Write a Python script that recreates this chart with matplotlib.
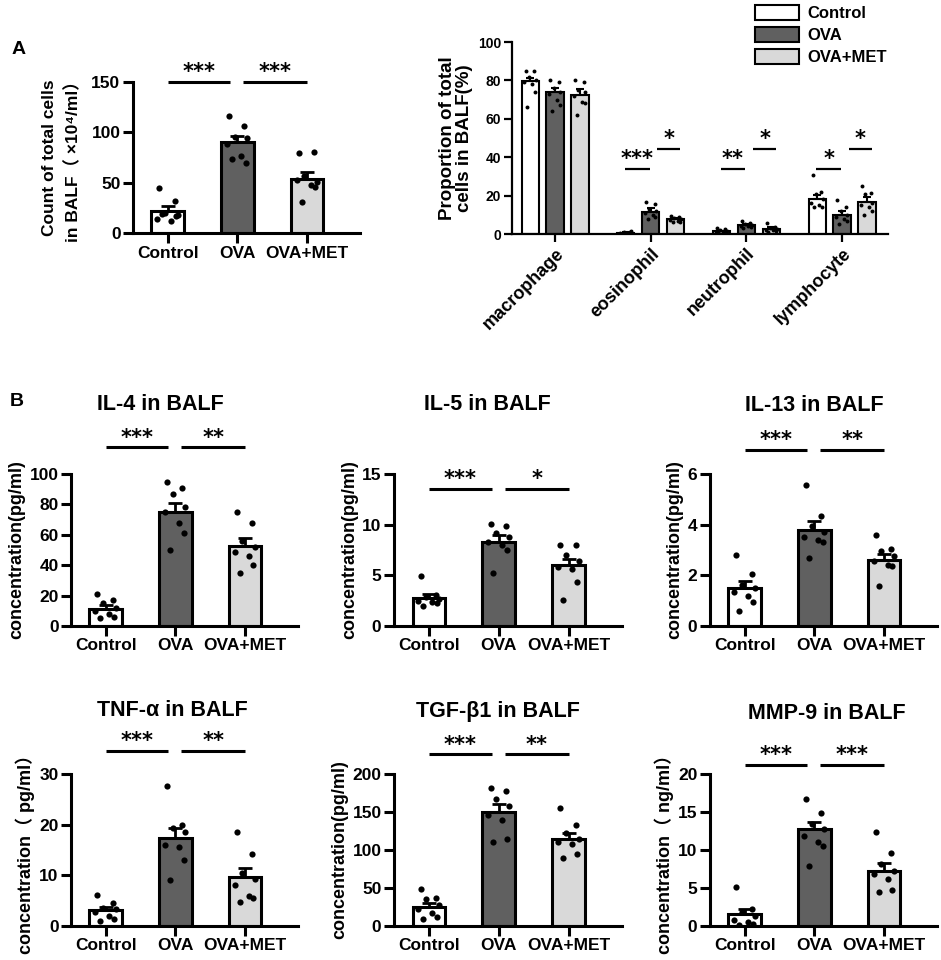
import matplotlib
matplotlib.use('Agg')
import matplotlib.pyplot as plt
import numpy as np
from matplotlib.patches import Patch

plt.rcParams['font.family'] = ['Liberation Sans', 'Noto Sans CJK SC', 'DejaVu Sans']
plt.rcParams['font.weight'] = 'bold'
plt.rcParams['axes.labelweight'] = 'bold'

groups = ['Control', 'OVA', 'OVA+MET']
colors = ['white', '#606060', '#d9d9d9']

# total cells in BALF (x10^4/ml)
total_mean = [22, 90, 54]
total_sem = [5, 6.5, 6.5]
total_dots = [[45, 32, 20, 18, 14, 12, 17, 19],
              [116, 106, 95, 94, 88, 76, 70, 74],
              [79, 80, 57, 51, 53, 48, 46, 31]]

# proportion of cell types (%)
cell_types = ['macrophage', 'eosinophil', 'neutrophil', 'lymphocyte']
prop_ctrl = [79.5, 0.7, 1.5, 18.0]
prop_ova = [73.7, 11.5, 4.5, 10.0]
prop_met = [72.2, 7.8, 2.8, 16.7]
prop_ctrl_sem = [1.9, 0.2, 0.3, 2.2]
prop_ova_sem = [2.6, 1.9, 0.5, 2.2]
prop_met_sem = [3.1, 0.5, 0.6, 2.4]
prop_ctrl_dots = [[85, 85, 82, 80, 79, 78, 74, 66],
                  [0.2, 0.5, 0.8, 1.5, 0.3, 0.6, 1.0, 0.4],
                  [3, 2.5, 2, 1.5, 1, 1, 0.5, 0.8],
                  [30.5, 22, 21, 18, 16, 15, 14, 14]]
prop_ova_dots = [[80, 79, 76, 74, 73, 70, 67, 64],
                 [16.5, 15.5, 13, 12, 11, 10, 9, 8],
                 [7, 5.5, 5, 4.5, 4, 4, 3.5, 3],
                 [17.5, 14, 12, 10, 9, 8, 7, 5]]
prop_met_dots = [[80, 79, 75, 74, 72, 69, 68, 62],
                 [9.5, 9, 8.5, 8, 7.5, 7, 6.5, 6],
                 [5.5, 3.5, 3, 2.5, 2, 2, 1.5, 1],
                 [25, 21.5, 21, 16, 15, 14, 12, 10]]
prop_sig = [('eosinophil', '***', '*'), ('neutrophil', '**', '*'), ('lymphocyte', '*', '*')]

# cytokines
il4_mean = [11.5, 75, 52.5]
il4_sem = [2.5, 5.8, 5.3]
il4_dots = [[21, 17, 15, 12, 10, 8, 6, 5],
            [95, 91, 87, 78, 75, 68, 61, 50],
            [75, 68, 56, 52, 49, 46, 40, 35]]

il5_mean = [2.75, 8.3, 6.0]
il5_sem = [0.45, 0.65, 0.65]
il5_dots = [[4.9, 3.1, 2.9, 2.7, 2.5, 2.4, 2.3, 2.0],
            [10.1, 9.9, 9.2, 8.8, 8.3, 8.0, 7.5, 5.2],
            [8.0, 8.0, 7.0, 6.4, 5.8, 5.6, 4.3, 2.6]]

il13_mean = [1.5, 3.8, 2.6]
il13_sem = [0.28, 0.33, 0.24]
il13_dots = [[2.8, 2.05, 1.6, 1.5, 1.35, 1.2, 0.95, 0.6],
             [5.55, 4.35, 3.95, 3.7, 3.5, 3.4, 3.3, 2.7],
             [3.6, 3.05, 2.95, 2.75, 2.55, 2.4, 2.35, 1.58]]

tnf_mean = [3.1, 17.3, 9.7]
tnf_sem = [0.7, 2.1, 1.8]
tnf_dots = [[6.2, 4.6, 3.6, 3.4, 2.8, 2.0, 1.4, 1.0],
            [27.6, 20.0, 19.3, 18.5, 16.0, 15.5, 13.0, 9.0],
            [18.6, 14.3, 10.5, 9.2, 8.0, 6.0, 5.5, 4.8]]

tgf_mean = [25, 150, 114]
tgf_sem = [5.5, 10.5, 8.5]
tgf_dots = [[49, 37, 35, 27, 22, 17, 12, 9],
            [181, 178, 167, 158, 146, 140, 114, 111],
            [155, 133, 122, 115, 110, 108, 95, 89]]

mmp_mean = [1.55, 12.7, 7.3]
mmp_sem = [0.7, 1.0, 1.05]
mmp_dots = [[5.1, 2.3, 1.9, 1.3, 0.8, 0.5, 0.3, 0.1],
            [16.7, 14.9, 13.4, 12.8, 11.8, 11.0, 10.5, 7.9],
            [12.4, 9.6, 8.2, 7.2, 6.8, 6.2, 4.7, 4.5]]

W, H = 941, 960
fig = plt.figure(figsize=(W / 100, H / 100), dpi=100)


def rect(l, r, t, b):
    return [l / W, 1 - b / H, (r - l) / W, (b - t) / H]


jit = np.array([-0.12, 0.1, -0.04, 0.14, -0.15, 0.05, 0.12, -0.08])
star_font = dict(family='DejaVu Sans', fontweight='bold', fontsize=15)


def sig(ax, x0, x1, y, txt, lw=2.2):
    ax.plot([x0, x1], [y, y], color='black', lw=lw, clip_on=False, solid_capstyle='butt')
    ax.annotate(txt, ((x0 + x1) / 2, y), xytext=(0, 7), textcoords='offset points',
                ha='center', va='center', annotation_clip=False, **star_font)


def three_bar(pos, means, sems, dots, ymax, ystep, ylabel, title, sig_y, stars, title_xy):
    ax = fig.add_axes(rect(*pos))
    x = np.arange(3)
    ax.bar(x, means, width=0.47, color=colors, edgecolor='black', linewidth=2.2, zorder=2)
    ax.errorbar(x, means, yerr=[np.zeros(3), sems], fmt='none', ecolor='black',
                elinewidth=2, capsize=5, capthick=2, zorder=3)
    for i in range(3):
        ax.scatter(x[i] + jit, dots[i], s=20, color='black', zorder=4, linewidths=0)
    ax.set_xlim(-0.5, 2.76)
    ax.set_ylim(0, ymax)
    ax.set_yticks(np.arange(0, ymax + ystep / 2, ystep))
    ax.set_xticks(x)
    ax.set_xticklabels(groups)
    for s in ['top', 'right']:
        ax.spines[s].set_visible(False)
    for s in ['left', 'bottom']:
        ax.spines[s].set_linewidth(2.2)
    ax.tick_params(width=2.2, length=7, labelsize=12.5, pad=2)
    ax.set_ylabel(ylabel, fontsize=13, labelpad=3)
    if title:
        ax.text(title_xy[0], title_xy[1], title, transform=ax.get_xaxis_transform(), ha='center',
                va='center', fontsize=15.5, fontweight='bold')
    sig(ax, 0, 0.9, sig_y, stars[0])
    sig(ax, 1.08, 2.0, sig_y, stars[1])
    return ax


# panel A left
axA = three_bar((133, 360, 82, 233), total_mean, total_sem, total_dots, 150, 50,
                'Count of total cells\nin BALF（ ×10⁴/ml）', None, 150, ('***', '***'), None)
axA.yaxis.label.set_linespacing(1.6)
axA.yaxis.label.set_fontsize(12.5)
axA.yaxis.labelpad = 7

# panel A right
ax2 = fig.add_axes(rect(512, 888, 42, 234))
g = np.arange(4)
off = 0.26
bw = 0.18
jit2 = jit * 0.4
means_all = [prop_ctrl, prop_ova, prop_met]
sems_all = [prop_ctrl_sem, prop_ova_sem, prop_met_sem]
dots_all = [prop_ctrl_dots, prop_ova_dots, prop_met_dots]
for k in range(3):
    xs = g + (k - 1) * off
    ax2.bar(xs, means_all[k], width=bw, color=colors[k], edgecolor='black', linewidth=1.5,
            zorder=2, label=groups[k])
    ax2.errorbar(xs, means_all[k], yerr=[np.zeros(4), sems_all[k]], fmt='none', ecolor='black',
                 elinewidth=1.5, capsize=3, capthick=1.5, zorder=3)
    for j in range(4):
        ax2.scatter(xs[j] + jit2, dots_all[k][j], s=8, color='black', zorder=4, linewidths=0)
ax2.set_xlim(-0.45, 3.48)
ax2.set_ylim(0, 100)
ax2.set_yticks(np.arange(0, 101, 20))
ax2.set_xticks(g)
ax2.set_xticklabels(cell_types, rotation=45, ha='right', rotation_mode='anchor', fontsize=13)
for s in ['top', 'right']:
    ax2.spines[s].set_visible(False)
for s in ['left', 'bottom']:
    ax2.spines[s].set_linewidth(1.6)
ax2.tick_params(width=1.6, length=6, pad=2)
ax2.tick_params(axis='y', labelsize=10)
ax2.set_ylabel('Proportion of total\ncells in BALF(%)', fontsize=13.5, linespacing=1.05, labelpad=3)
for name, s1, s2 in prop_sig:
    c = cell_types.index(name)
    sig(ax2, c - 0.27, c - 0.01, 34, s1, lw=1.6)
    sig(ax2, c + 0.07, c + 0.31, 44.5, s2, lw=1.6)

fig.legend(handles=[Patch(facecolor=colors[k], edgecolor='black', linewidth=1.5, label=groups[k])
                    for k in range(3)],
           loc='upper left', bbox_to_anchor=(745 / W, 1.0 + 5 / H), frameon=False, fontsize=12,
           handlelength=2.65, handleheight=1.0, labelspacing=0.35, handletextpad=0.5,
           borderpad=0.1)

# panel B
three_bar((71, 298, 474, 626), il4_mean, il4_sem, il4_dots, 100, 20,
          'concentration(pg/ml)', 'IL-4 in BALF', 117.6, ('***', '**'), (0.78, 1.46))
three_bar((394, 622, 474, 626), il5_mean, il5_sem, il5_dots, 15, 5,
          'concentration(pg/ml)', 'IL-5 in BALF', 13.55, ('***', '*'), (0.84, 1.46))
three_bar((710, 937, 474, 626), il13_mean, il13_sem, il13_dots, 6, 2,
          'concentration(pg/ml)', 'IL-13 in BALF', 6.94, ('***', '**'), (1.0, 1.45))
three_bar((71, 298, 774, 926), tnf_mean, tnf_sem, tnf_dots, 30, 10,
          'concentration（ pg/ml）', 'TNF-α in BALF', 34.5, ('***', '**'), (0.96, 1.42))
three_bar((394, 622, 774, 926), tgf_mean, tgf_sem, tgf_dots, 200, 50,
          'concentration(pg/ml)', 'TGF-β1 in BALF', 226, ('***', '**'), (0.98, 1.41))
three_bar((710, 937, 774, 926), mmp_mean, mmp_sem, mmp_dots, 20, 5,
          'concentration（ ng/ml）', 'MMP-9 in BALF', 21.2, ('***', '***'), (1.18, 1.40))

fig.text(12 / W, 1 - 50 / H, 'A', fontsize=14, fontweight='bold', va='center')
fig.text(10 / W, 1 - 401 / H, 'B', fontsize=14, fontweight='bold', va='center')

fig.savefig('out.png', dpi=100)
